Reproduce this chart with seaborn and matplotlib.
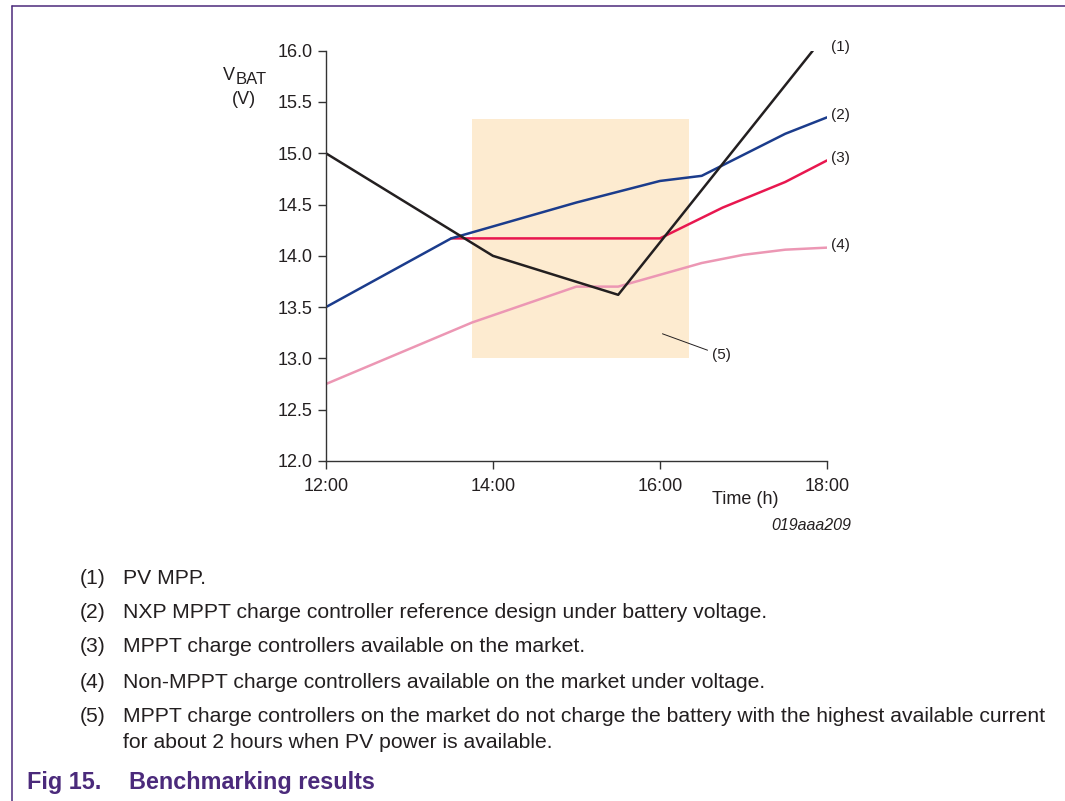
import numpy as np
import pandas as pd
import matplotlib
matplotlib.use("Agg")
import matplotlib.pyplot as plt
from matplotlib.lines import Line2D
from matplotlib.patches import Rectangle
import seaborn as sns

# --- data (time in hours, voltage in V) ---
pv_t = [12.0, 12.5, 13.0, 14.0, 15.5, 17.83]
pv_v = [15.0, 14.75, 14.5, 14.0, 13.62, 16.0]

nxp_t = [12.0, 13.5, 15.0, 16.0, 16.5, 17.5, 18.0]
nxp_v = [13.5, 14.17, 14.52, 14.73, 14.78, 15.19, 15.35]

mppt_t = [13.5, 16.0, 16.75, 17.5, 18.0]
mppt_v = [14.17, 14.17, 14.47, 14.72, 14.93]

non_t = [12.0, 13.75, 15.0, 15.5, 16.5, 17.0, 17.5, 18.0]
non_v = [12.75, 13.35, 13.70, 13.70, 13.93, 14.01, 14.06, 14.08]

zone_t = [13.75, 16.35]
zone_v = [13.0, 15.33]

x_ticks = [12, 14, 16, 18]
x_labels = ["12:00", "14:00", "16:00", "18:00"]
y_ticks = [12.0, 12.5, 13.0, 13.5, 14.0, 14.5, 15.0, 15.5, 16.0]

curve_tags = ["(1)", "(2)", "(3)", "(4)"]
notes = [
    ["PV MPP."],
    ["NXP MPPT charge controller reference design under battery voltage."],
    ["MPPT charge controllers available on the market."],
    ["Non-MPPT charge controllers available on the market under voltage."],
    ["MPPT charge controllers on the market do not charge the battery with the highest available current",
     "for about 2 hours when PV power is available."],
]

sns.set_theme(style="white")
plt.rcParams['font.family'] = ['Liberation Sans', 'DejaVu Sans']
txt = "#231f20"

fig = plt.figure(figsize=(10.65, 8.01), dpi=100)
ax = fig.add_axes([0.306, 0.4245, 0.4705, 0.5122])

ax.add_patch(Rectangle((zone_t[0], zone_v[0]), zone_t[1] - zone_t[0], zone_v[1] - zone_v[0],
                       facecolor="#fdebd0", edgecolor="none", zorder=0))

series = [
    (pv_t, pv_v, "#231f20"),
    (nxp_t, nxp_v, "#1b3c8c"),
    (mppt_t, mppt_v, "#e8174f"),
    (non_t, non_v, "#ec97b4"),
]
for t, v, c in reversed(series):
    df = pd.DataFrame({"t": t, "v": v})
    sns.lineplot(data=df, x="t", y="v", color=c, lw=1.8, sort=False, estimator=None, ax=ax)

# curve tags at the right end
tag_pos = [(18.05, 16.04), (18.05, 15.37), (18.05, 14.95), (18.05, 14.11)]
for tag, (tx, ty) in zip(curve_tags, tag_pos):
    ax.text(tx, ty, tag, fontsize=11, color=txt, va="center", ha="left", clip_on=False)

# (5) leader
ax.plot([16.03, 16.57], [13.24, 13.08], color=txt, lw=0.7)
ax.text(16.62, 13.03, "(5)", fontsize=11, color=txt, va="center", ha="left")

ax.set_xlim(12, 18)
ax.set_ylim(12, 16)
ax.set_xticks(x_ticks)
ax.set_xticklabels(x_labels)
ax.set_yticks(y_ticks)
ax.set_yticklabels([f"{y:.1f}" for y in y_ticks])
ax.set_xlabel("")
ax.set_ylabel("")
ax.tick_params(axis="both", which="both", direction="out", length=6, width=1,
               color="#333333", labelsize=13, labelcolor=txt, bottom=True, left=True)
ax.tick_params(axis="x", pad=6)
for side in ["top", "right"]:
    ax.spines[side].set_visible(False)
for side in ["left", "bottom"]:
    ax.spines[side].set_color("#333333")
    ax.spines[side].set_linewidth(1.0)
ax.patch.set_alpha(0)

W, H = 1065, 801
def fx(px):
    return px / W
def fy(py):
    return 1 - py / H

# axis titles
fig.text(fx(223), fy(75), "V", fontsize=13, color=txt, va="center", ha="left")
fig.text(fx(236), fy(80), "BAT", fontsize=12, color=txt, va="center", ha="left")
fig.text(fx(244), fy(100), "(V)", fontsize=13, color=txt, va="center", ha="center")
fig.text(fx(712), fy(500), "Time (h)", fontsize=13, color=txt, va="center", ha="left")
fig.text(fx(851), fy(525), "019aaa209", fontsize=11.5, color=txt, va="center", ha="right",
         style="italic")

# notes below
note_y = [578, 612, 646, 682, 717]
for i, (ny, lines) in enumerate(zip(note_y, notes)):
    fig.text(fx(80), fy(ny), f"({i + 1})", fontsize=15.2, color=txt, va="center", ha="left")
    for j, line in enumerate(lines):
        fig.text(fx(123), fy(ny + 26 * j), line, fontsize=15.2, color=txt, va="center", ha="left")

# caption
purple = "#4b2a7b"
fig.text(fx(27), fy(783), "Fig 15.", fontsize=16.8, color=purple, weight="bold", va="center", ha="left")
fig.text(fx(129), fy(783), "Benchmarking results", fontsize=16.8, color=purple, weight="bold",
         va="center", ha="left")

# page frame
fig.add_artist(Line2D([fx(11.5), fx(11.5)], [0, fy(5.5)], color=purple, lw=1.1))
fig.add_artist(Line2D([fx(11.5), 1], [fy(5.5), fy(5.5)], color=purple, lw=1.1))

fig.savefig("out.png", dpi=100)
